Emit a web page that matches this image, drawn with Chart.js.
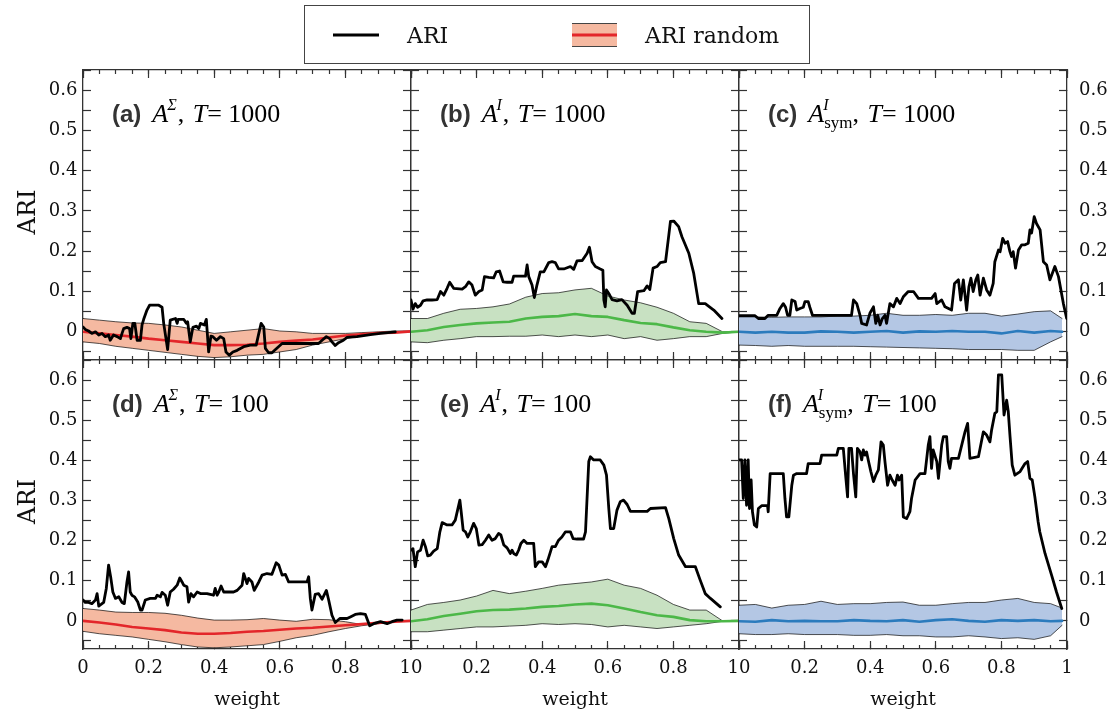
<!DOCTYPE html>
<html>
<head>
<meta charset="utf-8">
<script src="https://cdn.jsdelivr.net/npm/chart.js@4.4.1/dist/chart.umd.min.js"></script>
<style>
  html, body { margin: 0; padding: 0; background: #fff; }
  #wrap { position: relative; width: 1114px; height: 715px; }
  #wrap canvas { position: absolute; left: 0; top: 0; }
</style>
</head>
<body>
<div id="wrap"></div>
<script>
// weights of the random-baseline bands
const bandW = [0, 0.05, 0.1, 0.15, 0.2, 0.25, 0.3, 0.35, 0.4, 0.45, 0.5, 0.55, 0.6, 0.65, 0.7, 0.75, 0.8, 0.85, 0.9, 0.95, 1];
const symBandW = [0, 0.05, 0.1, 0.15, 0.2, 0.25, 0.3, 0.35, 0.4, 0.45, 0.5, 0.55, 0.6, 0.65, 0.7, 0.75, 0.8, 0.85, 0.9, 0.95, 0.985];

// (a) A^Sigma, T = 1000
const aW = [0, .007, .017, .027, .038, .048, .058, .068, .078, .083, .093, .104, .114, .119, .124, .134, .142, .146, .152, .158, .165, .175, .180, .185, .195, .203, .231, .241, .246, .258, .266, .282, .287, .290, .307, .315, .319, .327, .335, .346, .353, .358, .370, .376, .383, .390, .396, .407, .419, .429, .436, .446, .457, .470, .490, .510, .528, .536, .543, .551, .556, .566, .576, .591, .607, .718, .729, .742, .752, .759, .769, .779, .794, .805, .835, .876, .907, .952];
const aAri = [.012, .006, .002, -.004, 0, -.008, -.004, -.012, -.008, -.021, -.008, -.012, -.017, -.004, .008, .011, .008, -.017, .021, .021, -.021, -.021, .017, .031, .054, .066, .066, .061, .021, -.044, .029, .033, .021, .031, .031, .021, .025, -.025, .011, .014, .008, .021, .017, .031, -.050, -.011, -.012, -.021, -.012, -.017, -.050, -.058, -.050, -.046, -.037, -.033, -.033, -.004, .021, .012, -.041, -.052, -.052, -.041, -.029, -.029, -.021, -.012, -.017, -.025, -.034, -.027, -.021, -.014, -.012, -.007, -.004, 0];
const aUp = [.033, .029, .025, .022, .021, .017, .012, .004, -.004, 0, .004, .008, .002, 0, -.004, -.004, -.004, -.002, 0, .002, .002];
const aMean = [0, -.004, -.008, -.012, -.017, -.021, -.025, -.029, -.033, -.033, -.032, -.029, -.025, -.022, -.019, -.014, -.009, -.006, -.003, -.002, .001];
const aLo = [-.025, -.029, -.036, -.041, -.046, -.051, -.056, -.061, -.064, -.062, -.058, -.056, -.050, -.044, -.033, -.025, -.017, -.010, -.004, -.002, 0];

// (b) A^I, T = 1000
const bW = [0, .006, .013, .020, .029, .037, .049, .064, .080, .090, .100, .110, .118, .130, .156, .166, .176, .186, .196, .207, .217, .224, .237, .252, .260, .270, .281, .293, .308, .313, .349, .354, .359, .369, .376, .384, .394, .405, .420, .430, .440, .450, .466, .486, .496, .506, .522, .537, .544, .552, .562, .577, .585, .588, .592, .596, .603, .613, .628, .643, .659, .674, .681, .691, .710, .720, .728, .738, .750, .760, .776, .786, .791, .801, .816, .826, .847, .862, .877, .897, .923, .948];
const bAri = [.079, .056, .070, .061, .066, .077, .079, .079, .080, .100, .091, .108, .123, .108, .106, .112, .124, .116, .091, .100, .104, .137, .135, .134, .149, .151, .124, .123, .123, .138, .138, .166, .137, .116, .085, .116, .149, .149, .172, .174, .172, .156, .156, .162, .155, .176, .177, .195, .210, .174, .162, .156, .153, .079, .062, .104, .095, .080, .077, .080, .066, .046, .046, .100, .102, .114, .105, .158, .162, .172, .174, .240, .274, .275, .261, .236, .195, .145, .070, .070, .054, .033];
const bUp = [.033, .033, .046, .056, .058, .062, .069, .086, .095, .097, .104, .108, .089, .079, .072, .061, .046, .025, .021, 0, 0];
const bMean = [0, .004, .012, .017, .021, .023, .025, .033, .037, .039, .044, .039, .037, .029, .022, .019, .011, .004, 0, -.002, 0];
const bLo = [-.025, -.027, -.021, -.017, -.012, -.012, -.011, -.011, -.008, -.012, -.008, -.012, -.008, -.017, -.012, -.021, -.017, -.012, -.012, -.004, 0];

// (c) A^I_sym, T = 1000
const cW = [0, .049, .059, .079, .089, .115, .125, .135, .142, .148, .155, .161, .171, .176, .186, .196, .201, .211, .216, .224, .242, .343, .349, .359, .369, .374, .389, .399, .410, .417, .423, .430, .437, .445, .450, .460, .471, .481, .491, .501, .516, .532, .547, .587, .598, .603, .618, .628, .648, .657, .669, .676, .684, .694, .701, .707, .714, .722, .728, .735, .745, .755, .765, .775, .780, .791, .796, .804, .811, .819, .826, .831, .836, .843, .852, .862, .872, .882, .887, .892, .900, .907, .918, .928, .938, .948, .963, .974, .989, .999];
const cAri = [.040, .040, .033, .033, .041, .041, .058, .070, .061, .041, .041, .079, .075, .054, .058, .061, .075, .075, .061, .041, .041, .041, .079, .070, .041, .021, .017, .046, .062, .021, .041, .017, .033, .041, .021, .070, .062, .083, .070, .087, .100, .100, .083, .083, .095, .070, .079, .062, .054, .120, .129, .079, .129, .054, .112, .133, .100, .129, .141, .091, .133, .104, .091, .120, .174, .203, .199, .232, .220, .224, .199, .187, .199, .158, .203, .216, .216, .220, .253, .245, .286, .269, .253, .174, .166, .129, .162, .137, .070, .033];
const cUp = [.037, .037, .036, .037, .037, .037, .039, .039, .041, .046, .041, .041, .043, .041, .046, .046, .039, .044, .050, .052, .033];
const cMean = [0, -.002, 0, -.002, -.002, .001, 0, -.002, 0, .002, -.002, .001, 0, .002, 0, 0, -.004, .002, -.002, .002, 0];
const cLo = [-.033, -.034, -.036, -.034, -.036, -.036, -.036, -.036, -.037, -.038, -.039, -.040, -.041, -.042, -.044, -.044, -.044, -.046, -.046, -.025, -.012];

// (d) A^Sigma, T = 100
const dW = [0, .007, .017, .027, .038, .043, .048, .055, .063, .071, .078, .085, .091, .099, .109, .119, .126, .134, .139, .144, .149, .157, .167, .175, .180, .190, .205, .221, .226, .236, .241, .251, .258, .266, .276, .287, .295, .302, .307, .317, .322, .329, .337, .348, .358, .378, .398, .403, .409, .414, .421, .429, .459, .470, .485, .490, .500, .505, .515, .522, .536, .546, .561, .576, .589, .597, .607, .617, .627, .652, .683, .688, .693, .698, .708, .718, .729, .742, .749, .759, .769, .783, .805, .815, .830, .846, .861, .874, .886, .907, .927, .942, .957, .973];
const dAri = [.052, .046, .046, .043, .052, .068, .037, .041, .046, .081, .139, .106, .072, .056, .060, .046, .043, .097, .122, .072, .064, .060, .047, .027, .027, .052, .056, .056, .064, .060, .071, .064, .039, .072, .079, .089, .107, .097, .089, .085, .047, .068, .060, .072, .068, .068, .064, .081, .064, .072, .087, .072, .072, .076, .089, .118, .093, .106, .097, .076, .097, .114, .118, .116, .145, .139, .114, .116, .097, .097, .097, .110, .056, .027, .066, .068, .054, .076, .052, .014, -.004, .006, .006, .010, .016, .018, .016, -.012, -.007, -.002, -.007, -.002, .002, .002];
const dUp = [.031, .027, .022, .021, .021, .019, .014, .007, .002, .002, .003, .006, .002, -.001, .004, .003, -.002, -.009, -.004, -.001, 0];
const dMean = [0, -.004, -.009, -.015, -.019, -.023, -.029, -.032, -.032, -.030, -.027, -.025, -.022, -.019, -.017, -.014, -.011, -.008, -.005, -.002, 0];
const dLo = [-.026, -.032, -.036, -.040, -.046, -.052, -.059, -.065, -.067, -.065, -.062, -.059, -.051, -.042, -.036, -.027, -.019, -.012, -.007, -.002, -.001];

// (e) A^I, T = 100
const eW = [0, .006, .013, .020, .029, .037, .044, .051, .059, .069, .080, .088, .095, .110, .125, .135, .142, .149, .153, .159, .166, .173, .181, .191, .199, .207, .217, .227, .237, .247, .257, .267, .274, .283, .293, .303, .308, .313, .321, .328, .335, .344, .354, .374, .379, .389, .400, .410, .417, .430, .440, .450, .460, .471, .486, .494, .506, .526, .532, .542, .547, .557, .577, .588, .596, .603, .608, .618, .628, .638, .648, .659, .669, .720, .730, .776, .786, .801, .816, .837, .867, .882, .897, .913, .943];
const eAri = [.176, .180, .135, .172, .176, .201, .185, .162, .164, .174, .180, .222, .245, .239, .239, .251, .276, .301, .272, .226, .222, .209, .222, .243, .230, .189, .190, .201, .214, .201, .205, .218, .214, .189, .182, .168, .176, .168, .164, .176, .193, .201, .193, .193, .135, .147, .147, .135, .151, .185, .185, .201, .209, .222, .222, .205, .204, .204, .222, .397, .409, .401, .401, .388, .363, .280, .230, .230, .276, .297, .301, .290, .273, .273, .280, .282, .255, .205, .164, .135, .135, .101, .068, .056, .035];
const eUp = [.027, .041, .046, .052, .062, .076, .068, .074, .081, .089, .093, .097, .104, .089, .081, .064, .041, .027, .027, 0, 0];
const eMean = [-.001, .004, .012, .018, .024, .027, .028, .031, .035, .037, .041, .043, .039, .031, .022, .014, .010, .002, -.001, -.001, 0];
const eLo = [-.027, -.027, -.023, -.019, -.015, -.015, -.013, -.011, -.007, -.009, -.007, -.009, -.015, -.011, -.015, -.019, -.015, -.011, -.007, -.001, 0];

// (f) A^I_sym, T = 100
const fW = [0, .008, .013, .018, .023, .028, .032, .037, .041, .047, .054, .059, .069, .087, .089, .095, .110, .135, .140, .145, .152, .161, .166, .176, .206, .211, .247, .252, .298, .303, .318, .325, .331, .335, .343, .349, .356, .361, .369, .374, .379, .384, .389, .394, .402, .410, .417, .425, .433, .440, .445, .453, .460, .467, .476, .483, .488, .496, .501, .511, .521, .526, .537, .552, .567, .577, .582, .587, .592, .603, .608, .618, .623, .633, .638, .643, .648, .669, .679, .689, .697, .704, .730, .745, .755, .765, .770, .780, .786, .791, .801, .808, .816, .821, .826, .833, .841, .857, .872, .880, .887, .894, .902, .912, .917, .933, .953, .968, .984];
const fAri = [.401, .401, .305, .401, .288, .401, .280, .351, .272, .239, .234, .280, .287, .287, .272, .367, .367, .367, .305, .259, .259, .338, .363, .367, .367, .392, .392, .413, .413, .430, .430, .363, .309, .430, .430, .367, .309, .430, .421, .401, .426, .413, .421, .401, .372, .347, .363, .376, .446, .438, .397, .338, .363, .351, .338, .363, .351, .363, .259, .255, .272, .305, .351, .367, .367, .438, .459, .380, .426, .397, .355, .438, .459, .459, .397, .380, .405, .405, .438, .471, .492, .405, .409, .471, .463, .446, .475, .517, .521, .613, .613, .513, .550, .521, .463, .388, .363, .372, .392, .397, .355, .351, .309, .247, .222, .168, .114, .072, .031];
const fUp = [.039, .041, .032, .039, .041, .049, .041, .043, .043, .046, .047, .039, .039, .043, .046, .046, .052, .056, .046, .043, .032];
const fMean = [-.001, -.002, .002, -.001, 0, -.001, -.001, .002, 0, -.001, .002, -.002, .002, .004, 0, -.002, .002, 0, .002, -.001, 0];
const fLo = [-.032, -.034, -.034, -.032, -.034, -.034, -.034, -.036, -.036, -.034, -.037, -.037, -.040, -.040, -.037, -.040, -.044, -.042, -.046, -.037, -.011];

const W = 1114, H = 715;
const AX = '#333';
const TICKFONT = { family: 'DejaVu Serif', size: 18 };
const RED = { fill: '#f5b9a1', line: '#e3262a' };
const GREEN = { fill: '#c8e1c2', line: '#4cb848' };
const BLUE = { fill: '#b4c7e4', line: '#2b7bbd' };
// space reserved for the axis boxes so the tick labels are not clipped
const LEFT_BOX = 70, RIGHT_BOX = 45, BOTTOM_BOX = 45;
const FIG = '\u2007'; // figure space, nudges the shared "1"/"0" labels apart

const panels = [
  { id: 'a', L: 83, R: 411, T: 70, B: 360, w: aW, ari: aAri, bw: bandW, up: aUp, mean: aMean, lo: aLo, col: RED, left: true, right: false, bottom: false, first: false, last: true, lbl: '(a)', sup: 'Σ', sub: null, tT: '1000' },
  { id: 'b', L: 411, R: 739, T: 70, B: 360, w: bW, ari: bAri, bw: bandW, up: bUp, mean: bMean, lo: bLo, col: GREEN, left: false, right: false, bottom: false, first: true, last: true, lbl: '(b)', sup: 'I', sub: null, tT: '1000' },
  { id: 'c', L: 739, R: 1067, T: 70, B: 360, w: cW, ari: cAri, bw: symBandW, up: cUp, mean: cMean, lo: cLo, col: BLUE, left: false, right: true, bottom: false, first: true, last: false, lbl: '(c)', sup: 'I', sub: 'sym', tT: '1000' },
  { id: 'd', L: 83, R: 411, T: 360, B: 649, w: dW, ari: dAri, bw: bandW, up: dUp, mean: dMean, lo: dLo, col: RED, left: true, right: false, bottom: true, first: false, last: true, lbl: '(d)', sup: 'Σ', sub: null, tT: '100' },
  { id: 'e', L: 411, R: 739, T: 360, B: 649, w: eW, ari: eAri, bw: bandW, up: eUp, mean: eMean, lo: eLo, col: GREEN, left: false, right: false, bottom: true, first: true, last: true, lbl: '(e)', sup: 'I', sub: null, tT: '100' },
  { id: 'f', L: 739, R: 1067, T: 360, B: 649, w: fW, ari: fAri, bw: symBandW, up: fUp, mean: fMean, lo: fLo, col: BLUE, left: false, right: true, bottom: true, first: true, last: false, lbl: '(f)', sup: 'I', sub: 'sym', tT: '100' }
];

const pts = (xs, ys) => xs.map((x, i) => ({ x, y: ys[i] }));

const yFmt = v => {
  const k = Math.round(v * 20);
  if (k % 2 !== 0) return '';
  return k === 0 ? '0' : (k / 20).toFixed(1);
};

function makeScales(p) {
  const xFmt = v => {
    if (v === 0) return p.first ? FIG + '0' : '0';
    if (v === 1) return p.last ? '1' + FIG : '1';
    return v.toFixed(1);
  };
  const xr = { type: 'linear', min: 0, max: 1 };
  const yr = { type: 'linear', min: -0.07, max: 0.65 };
  const xAxis = (pos, step, tl, show, major, size) => ({
    ...xr, position: pos, weight: major ? 1 : 0,
    afterFit: s => { s.height = size; },
    border: major ? { color: AX, width: 1.3 } : { display: false },
    grid: { drawOnChartArea: false, tickLength: tl, color: AX, tickWidth: 1.2 },
    ticks: { display: show, stepSize: step, autoSkip: false, maxRotation: 0, maxTicksLimit: 100, includeBounds: false, padding: 17, color: '#111', font: TICKFONT, callback: xFmt }
  });
  const yAxis = (pos, show, pad, size) => ({
    ...yr, position: pos,
    afterFit: s => { s.width = size; },
    border: { color: AX, width: 1.3 },
    grid: { drawOnChartArea: false, tickLength: -8, color: AX, tickWidth: 1.2 },
    ticks: { display: show, stepSize: 0.05, autoSkip: false, maxTicksLimit: 100, includeBounds: false, padding: pad, color: '#111', font: TICKFONT, callback: yFmt }
  });
  return {
    x: xAxis('bottom', 0.2, -8, p.bottom, true, BOTTOM_BOX),
    xm: xAxis('bottom', 0.05, -4, false, false, 0),
    xt: xAxis('top', 0.2, -8, false, true, 0),
    xtm: xAxis('top', 0.05, -4, false, false, 0),
    y: yAxis('left', p.left, 13.5, LEFT_BOX),
    yr: yAxis('right', p.right, 20, RIGHT_BOX)
  };
}

function drawTitle(ctx, p) {
  let x = p.L + 29;
  const y = p.T + 52;
  ctx.save();
  ctx.textBaseline = 'alphabetic';
  ctx.textAlign = 'left';
  ctx.font = 'bold 24px "Liberation Sans"';
  ctx.fillStyle = '#333';
  ctx.fillText(p.lbl, x, y);
  x += ctx.measureText(p.lbl).width + 11;
  ctx.fillStyle = '#000';
  ctx.font = 'italic 26px "Liberation Serif"';
  ctx.fillText('A', x, y);
  x += ctx.measureText('A').width;
  ctx.font = 'italic 16px "Liberation Serif"';
  ctx.fillText(p.sup, x - 1, y - 12);
  let sw = ctx.measureText(p.sup).width;
  if (p.sub) {
    ctx.font = '17px "Liberation Serif"';
    ctx.fillText(p.sub, x, y + 6);
    sw = Math.max(sw, ctx.measureText(p.sub).width);
  }
  x += sw;
  ctx.font = '26px "Liberation Serif"';
  ctx.fillText(',', x, y);
  x += ctx.measureText(', ').width + 2;
  ctx.font = 'italic 26px "Liberation Serif"';
  ctx.fillText('T', x, y);
  x += ctx.measureText('T').width;
  ctx.font = '26px "Liberation Serif"';
  ctx.fillText('= ' + p.tT, x, y);
  ctx.restore();
}

function drawDecor(ctx, p) {
  drawTitle(ctx, p);
  ctx.save();
  ctx.fillStyle = '#111';
  if (p.left) {
    ctx.save();
    ctx.translate(29, (p.T + p.B) / 2 - 3);
    ctx.rotate(-Math.PI / 2);
    ctx.font = '24px "DejaVu Serif"';
    ctx.textAlign = 'center';
    ctx.textBaseline = 'middle';
    ctx.fillText('ARI', 0, 0);
    ctx.restore();
  }
  if (p.bottom) {
    ctx.font = '19px "DejaVu Serif"';
    ctx.textAlign = 'center';
    ctx.textBaseline = 'alphabetic';
    ctx.fillText('weight', (p.L + p.R) / 2, 705);
  }
  if (p.id === 'a') {
    // figure legend
    ctx.strokeStyle = '#444';
    ctx.lineWidth = 1;
    ctx.strokeRect(304.5, 5.5, 505, 58);
    ctx.strokeStyle = '#000';
    ctx.lineWidth = 3;
    ctx.beginPath(); ctx.moveTo(333, 35); ctx.lineTo(379, 35); ctx.stroke();
    ctx.fillStyle = RED.fill;
    ctx.fillRect(572, 23, 45, 24);
    ctx.strokeStyle = '#444';
    ctx.lineWidth = 1;
    ctx.beginPath(); ctx.moveTo(572, 23.5); ctx.lineTo(617, 23.5); ctx.moveTo(572, 46.5); ctx.lineTo(617, 46.5); ctx.stroke();
    ctx.strokeStyle = RED.line;
    ctx.lineWidth = 3;
    ctx.beginPath(); ctx.moveTo(572, 35); ctx.lineTo(617, 35); ctx.stroke();
    ctx.fillStyle = '#111';
    ctx.font = '22px "DejaVu Serif"';
    ctx.textAlign = 'left';
    ctx.textBaseline = 'alphabetic';
    ctx.fillText('ARI', 407, 43);
    ctx.fillText('ARI random', 645, 43);
  }
  ctx.restore();
}

const wrap = document.getElementById('wrap');
panels.forEach(p => {
  const cv = document.createElement('canvas');
  cv.width = W; cv.height = H;
  cv.style.width = W + 'px'; cv.style.height = H + 'px';
  wrap.appendChild(cv);
  new Chart(cv, {
    type: 'line',
    data: {
      datasets: [
        { data: pts(p.w, p.ari), borderColor: '#000', borderWidth: 2.8, order: 0 },
        { data: pts(p.bw, p.mean), borderColor: p.col.line, borderWidth: 2.6, order: 1 },
        { data: pts(p.bw, p.up), borderColor: 'rgba(0,0,0,0.75)', borderWidth: 0.9, backgroundColor: p.col.fill, fill: '+1', order: 2 },
        { data: pts(p.bw, p.lo), borderColor: 'rgba(0,0,0,0.75)', borderWidth: 0.9, fill: false, order: 3 }
      ]
    },
    options: {
      responsive: false,
      animation: false,
      devicePixelRatio: 1,
      layout: { padding: { left: p.L - LEFT_BOX, right: W - p.R - RIGHT_BOX, top: p.T, bottom: H - p.B - BOTTOM_BOX } },
      elements: {
        point: { radius: 0, hoverRadius: 0 },
        line: { tension: 0, borderJoinStyle: 'round', borderCapStyle: 'round' }
      },
      plugins: {
        legend: { display: false },
        tooltip: { enabled: false },
        filler: { drawTime: 'beforeDatasetsDraw' }
      },
      scales: makeScales(p)
    },
    plugins: [{ id: 'decor' + p.id, afterDraw(chart) { drawDecor(chart.ctx, p); } }]
  });
});
</script>
</body>
</html>
